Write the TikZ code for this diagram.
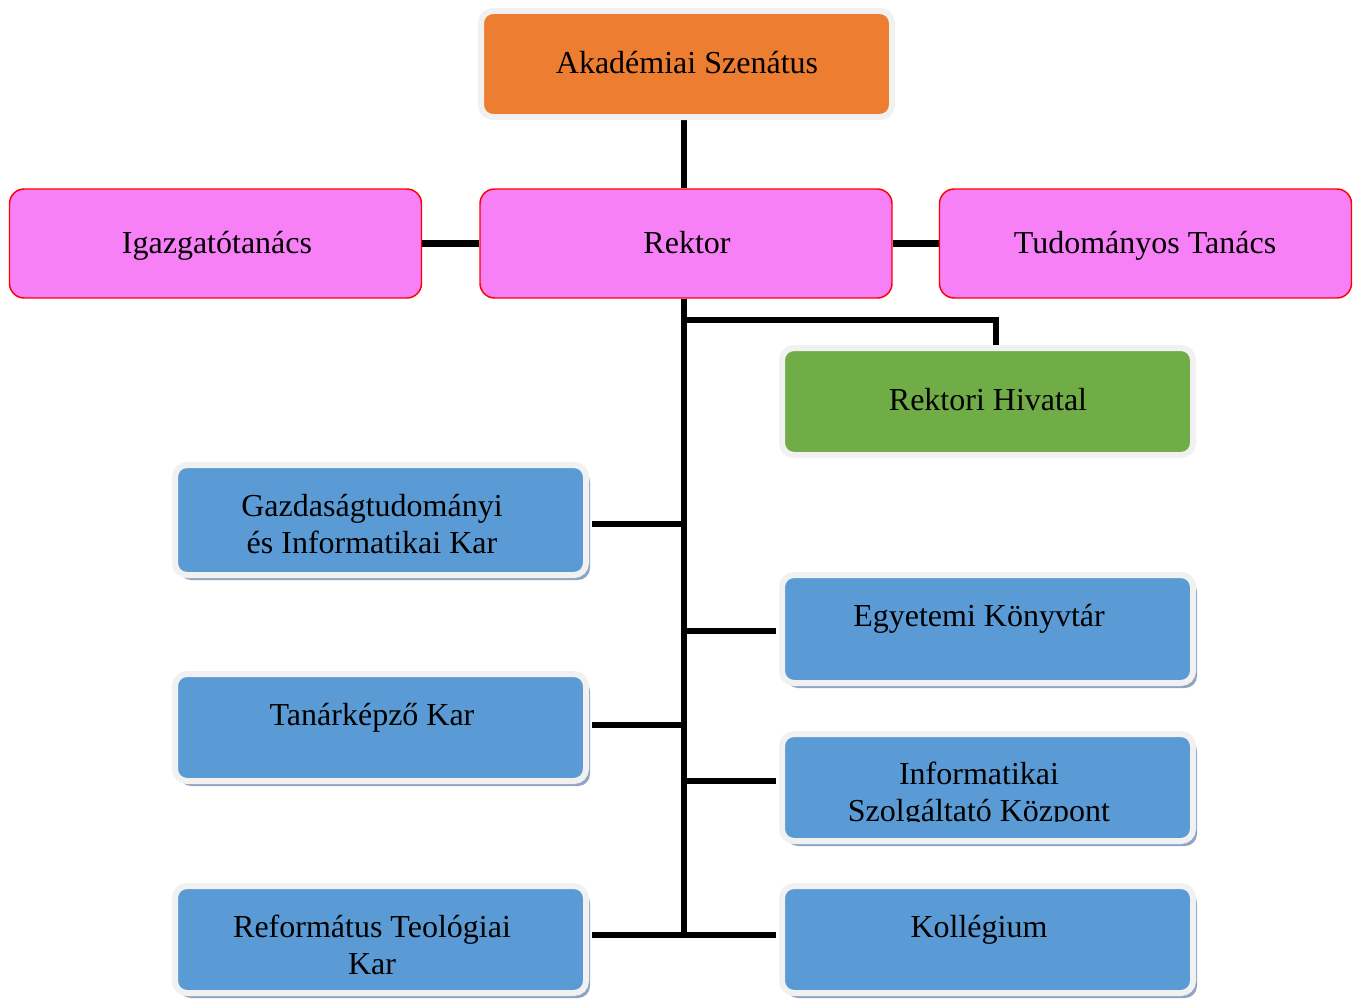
\documentclass[tikz,border=0pt]{standalone}
\usepackage{fontspec}
\setmainfont{Liberation Serif}
\usetikzlibrary{shadows,calc}
\definecolor{ringgrey}{HTML}{F1F1F1}
\definecolor{orangefill}{HTML}{ED7D31}
\definecolor{pinkfill}{HTML}{F780F7}
\definecolor{redline}{HTML}{FF0000}
\definecolor{greenfill}{HTML}{70AD47}
\definecolor{bluefill}{HTML}{5B9BD5}
\definecolor{shadowc}{HTML}{8EA6C2}
\tikzset{
  base/.style={rectangle, rounded corners=9pt, inner sep=0pt},
  ringbox/.style={base, draw=ringgrey, line width=4.5pt, minimum width=411*0.75pt},
  orangebox/.style={ringbox, fill=orangefill, minimum height=106*0.75pt},
  greenbox/.style={ringbox, fill=greenfill, minimum height=107*0.75pt},
  bluebox/.style={ringbox, fill=bluefill, minimum height=107*0.75pt,
    drop shadow={shadow xshift=4*0.75pt, shadow yshift=-5*0.75pt, fill=shadowc, opacity=1}},
  pinkbox/.style={base, rounded corners=11pt, draw=redline, line width=1.1pt, fill=pinkfill,
    minimum width=412*0.75pt, minimum height=109*0.75pt},
  txt/.style={font=\fontsize{24}{27.8}\selectfont, align=center, inner sep=0pt, text=black},
  conn/.style={draw=black, line width=5.2pt, line join=miter},
}
\begin{document}
\begin{tikzpicture}[x=0.75pt,y=-0.75pt]
\useasboundingbox (0,0) rectangle (1360,999);
\fill[white] (0,0) rectangle (1360,999);

% coordinates for connector joins
\coordinate (tx) at (684,0);
\coordinate (rjoin) at (684,320);
\coordinate (j1) at (684,524);
\coordinate (j2) at (684,631);
\coordinate (j3) at (684,725);
\coordinate (j4) at (684,781);
\coordinate (tbot) at (684,935);
\coordinate (rhx) at (996,0);

% invisible anchors for the top boxes
\path
  node[orangebox, draw=none, fill=none] (senate) at (686.5,64) {}
  node[pinkbox, draw=none, fill=none] (rektor) at (686,243.5) {}
  node[pinkbox, draw=none, fill=none] (igazg) at (215.5,243.5) {}
  node[pinkbox, draw=none, fill=none] (tudom) at (1145.5,243.5) {}
  node[greenbox, draw=none, fill=none] (rhiv) at (987.5,401.5) {};

% connectors (drawn before the visible boxes)
\draw[conn] (senate.south -| tx) -- (rektor.north -| tx);
\draw[conn] (igazg.east) -- (rektor.west);
\draw[conn] (rektor.east) -- (tudom.west);
\draw[conn] (rektor.south -| tx) -- (tbot);
\draw[conn] (rjoin) -| (rhiv.north -| rhx);

% visible top boxes over connectors
\node[orangebox] at (686.5,64) {};
\node[pinkbox] at (686,243.5) {};
\node[pinkbox] at (215.5,243.5) {};
\node[pinkbox] at (1145.5,243.5) {};
\node[greenbox] at (987.5,401.5) {};

% blue boxes
\node[bluebox, minimum height=110*0.75pt] (gik) at (380.5,520) {};
\node[bluebox, minimum height=108*0.75pt] (konyv) at (987.5,629) {};
\node[bluebox] (tanar) at (380.5,727.5) {};
\node[bluebox] (isz) at (987.5,787.5) {};
\node[bluebox] (ref) at (380.5,939.5) {};
\node[bluebox] (koll) at (987.5,939.5) {};

% branch connectors
\draw[conn] ($(gik.east |- j1)+(3,0)$) -- (j1);
\draw[conn] (j2) -- ($(konyv.west |- j2)+(-3,0)$);
\draw[conn] ($(tanar.east |- j3)+(3,0)$) -- (j3);
\draw[conn] (j4) -- ($(isz.west |- j4)+(-3,0)$);
\draw[conn] ($(ref.east |- tbot)+(3,0)$) -- ($(koll.west |- tbot)+(-3,0)$);

% texts
\node[txt] (tsenate) at (687,63) {Akadémiai Szenátus};
\node[txt] (trektor) at (687,243) {Rektor};
\node[txt] (tigazg) at (217,246) {Igazgatótanács};
\node[txt] (ttudom) at (1145,246) {Tudományos Tanács};
\node[txt] (trhiv) at (988,400) {Rektori Hivatal};
\node[txt] (tgik) at (372,524) {Gazdaságtudományi\\és Informatikai Kar};
\node[txt] (tkonyv) at (979,619) {Egyetemi Könyvtár};
\node[txt] (ttanar) at (372,718) {Tanárképző Kar};
\begin{scope}
\clip (785,737) rectangle (1190,821);
\node[txt] (tisz) at (979,795) {Informatikai\\Szolgáltató Központ};
\end{scope}
\node[txt] (tref) at (372,945) {Református Teológiai\\Kar};
\node[txt] (tkoll) at (979,930) {Kollégium};
\end{tikzpicture}
\end{document}
